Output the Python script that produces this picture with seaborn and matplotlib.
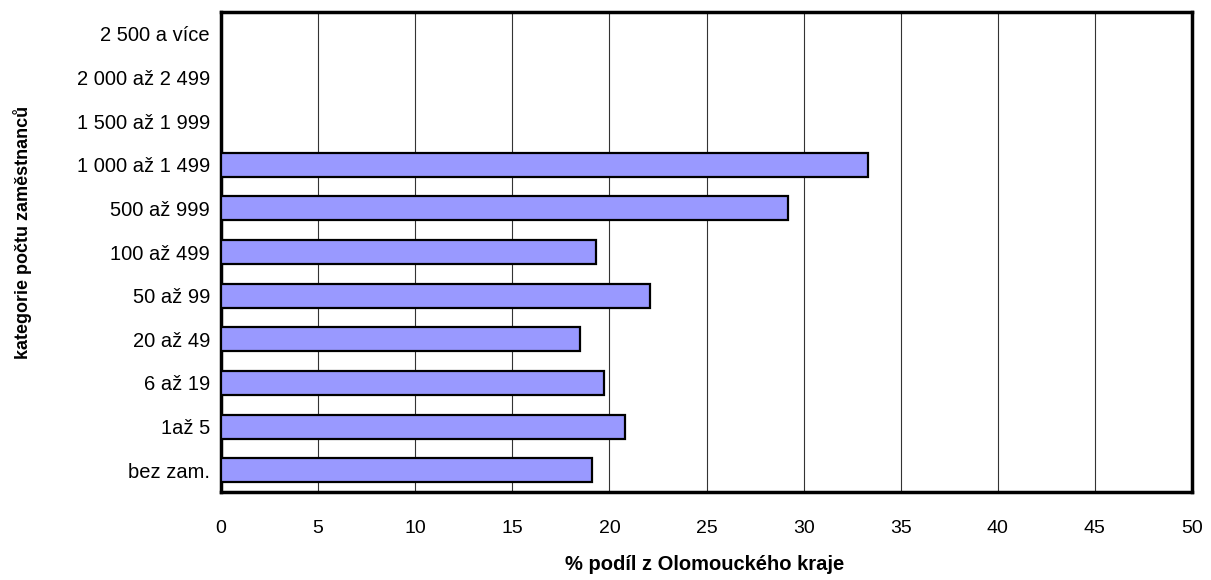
import pandas as pd
import numpy as np
import seaborn as sns
import matplotlib.pyplot as plt

# ---- data ----
categories = ['2 500 a více', '2 000 až 2 499', '1 500 až 1 999', '1 000 až 1 499',
              '500 až 999', '100 až 499', '50 až 99', '20 až 49', '6 až 19',
              '1až 5', 'bez zam.']
values = [0, 0, 0, 33.3, 29.2, 19.3, 22.1, 18.5, 19.7, 20.8, 19.1]
x_ticks = [0, 5, 10, 15, 20, 25, 30, 35, 40, 45, 50]

df = pd.DataFrame({'kategorie': categories, 'podil': values})

sns.set_style('white')
plt.rcParams['font.family'] = ['Liberation Sans', 'DejaVu Sans']
plt.rcParams['text.color'] = 'black'
plt.rcParams['axes.labelcolor'] = 'black'
plt.rcParams['xtick.color'] = 'black'
plt.rcParams['ytick.color'] = 'black'

fig = plt.figure(figsize=(12.11, 5.8), dpi=100)
ax = fig.add_axes([221 / 1211, 1 - 492 / 580, 971 / 1211, 480 / 580])

sns.barplot(data=df, x='podil', y='kategorie', order=categories, orient='h',
            color='#9999FF', saturation=1, edgecolor='black', linewidth=1.6,
            width=0.55, ax=ax, zorder=3)

ax.set_xlim(0, 50)
ax.set_xticks(x_ticks)
ax.set_xticklabels([str(t) for t in x_ticks], fontsize=14)
ax.tick_params(axis='x', direction='out', length=4.5, width=1, pad=16)
ax.tick_params(axis='y', length=0, pad=8, labelsize=14.5)
ax.grid(axis='x', color='#333333', linewidth=0.8, zorder=0)
ax.set_axisbelow(True)

for s in ax.spines.values():
    s.set_visible(True)
    s.set_color('black')
    s.set_linewidth(2.5)

ax.set_xlabel('% podíl z Olomouckého kraje', fontsize=14.5, fontweight='bold')
ax.set_ylabel('kategorie počtu zaměstnanců', fontsize=13, fontweight='bold')
ax.xaxis.set_label_coords(0.498, -0.131)
ax.yaxis.set_label_coords(-0.195, 0.54)

plt.savefig('out.png', dpi=100)
